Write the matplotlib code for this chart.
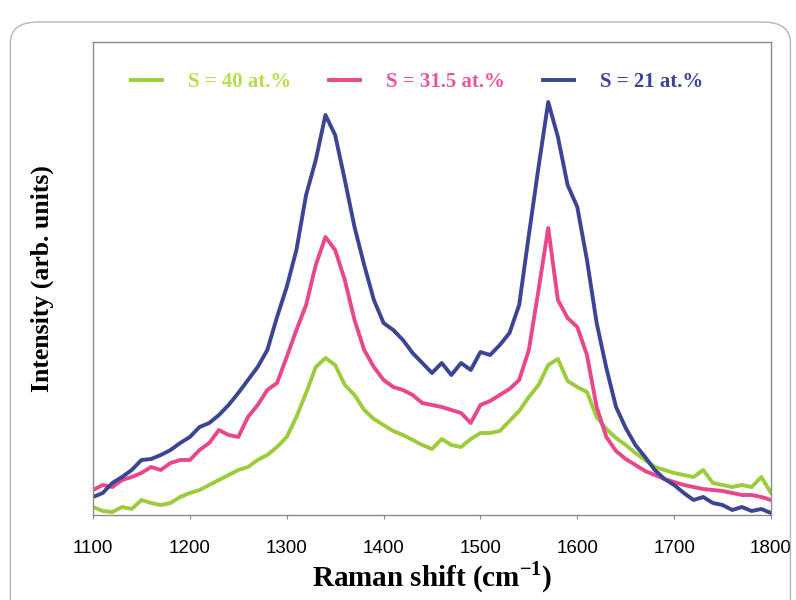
import numpy as np
import matplotlib
matplotlib.use("Agg")
import matplotlib.pyplot as plt
from matplotlib.patches import FancyBboxPatch

plt.rcParams["mathtext.fontset"] = "custom"
plt.rcParams["mathtext.rm"] = "Liberation Serif"
plt.rcParams["mathtext.bf"] = "Liberation Serif:bold"

raman_shift = list(range(1100, 1801, 10))

s21 = [18, 22, 32, 38, 45, 55, 56, 60, 65, 72,
       78, 88, 92, 100, 110, 122, 135, 148, 165, 198,
       228, 265, 320, 355, 400, 380, 335, 288, 250, 215,
       192, 185, 175, 162, 152, 142, 152, 140, 152, 145,
       163, 160, 170, 182, 210, 280, 348, 413, 378, 330,
       308, 255, 192, 147, 108, 87, 70, 58, 45, 36,
       30, 22, 15, 18, 12, 10, 5, 8, 4, 6, 2]

s315 = [25, 30, 28, 35, 38, 42, 48, 45, 52, 55,
        55, 65, 72, 85, 80, 78, 98, 110, 125, 132,
        158, 185, 210, 250, 278, 265, 235, 195, 165, 148,
        135, 128, 125, 120, 112, 110, 108, 105, 102, 92,
        110, 114, 120, 126, 135, 165, 225, 287, 215, 197,
        188, 160, 108, 78, 64, 56, 50, 44, 40, 36,
        33, 30, 28, 26, 25, 24, 22, 20, 20, 18, 15]

s40 = [8, 4, 3, 8, 6, 15, 12, 10, 12, 18,
       22, 25, 30, 35, 40, 45, 48, 55, 60, 68,
       78, 98, 122, 148, 157, 150, 130, 120, 105, 96,
       90, 84, 80, 75, 70, 66, 76, 70, 68, 76,
       82, 82, 84, 94, 104, 118, 130, 150, 156, 134,
       128, 123, 98, 86, 77, 70, 62, 55, 48, 45,
       42, 40, 38, 45, 32, 30, 28, 30, 28, 38, 22]

labels = ["S = 40 at.%", "S = 31.5 at.%", "S = 21 at.%"]
line_colors = ["#9ccb3b", "#e8478b", "#3c4494"]
text_colors = ["#b5de4a", "#e8559a", "#3c4494"]
xticks = [1100, 1200, 1300, 1400, 1500, 1600, 1700, 1800]

fig = plt.figure(figsize=(7.96, 6.0), dpi=100)
fig.patch.set_facecolor("white")

# outer rounded frame (as on the scanned figure)
frame = FancyBboxPatch((0.013, -0.05), 0.98, 0.9633 + 0.05,
                       boxstyle="round,pad=0,rounding_size=0.035",
                       transform=fig.transFigure, fill=False,
                       edgecolor="#b5b5b5", linewidth=1.0)
fig.add_artist(frame)

ax = fig.add_axes([93 / 796, 1 - 515 / 600, (771 - 93) / 796, (515 - 42) / 600])

for ys, lab, c in zip([s40, s315, s21], labels, line_colors):
    ax.plot(raman_shift, ys, color=c, lw=2.8, label=lab, solid_joinstyle="round")

ax.set_xlim(1100, 1800)
ax.set_ylim(0, 473)
ax.set_xticks(xticks)
ax.set_xticklabels([str(t) for t in xticks], fontsize=13.5, family="Liberation Sans")
ax.set_yticks([])
ax.tick_params(axis="x", direction="out", length=3, color="#888888", pad=15)
for sp in ax.spines.values():
    sp.set_color("#8a8a8a")
    sp.set_linewidth(1.0)

ax.set_xlabel(r"Raman shift (cm$^{\mathbf{-1}}$)", fontsize=21, fontweight="bold",
              family="Liberation Serif", labelpad=2)
ax.set_ylabel("Intensity (arb. units)", fontsize=18.5, fontweight="bold",
              family="Liberation Serif", labelpad=28)

leg = ax.legend(ncol=3, loc="center", bbox_to_anchor=(0.478, 0.915), frameon=False,
                handlelength=1.5, handletextpad=1.25, columnspacing=1.8,
                prop={"family": "Liberation Serif", "weight": "bold", "size": 15})
for t, c in zip(leg.get_texts(), text_colors):
    t.set_color(c)

fig.savefig("out.png", dpi=100, facecolor="white")
